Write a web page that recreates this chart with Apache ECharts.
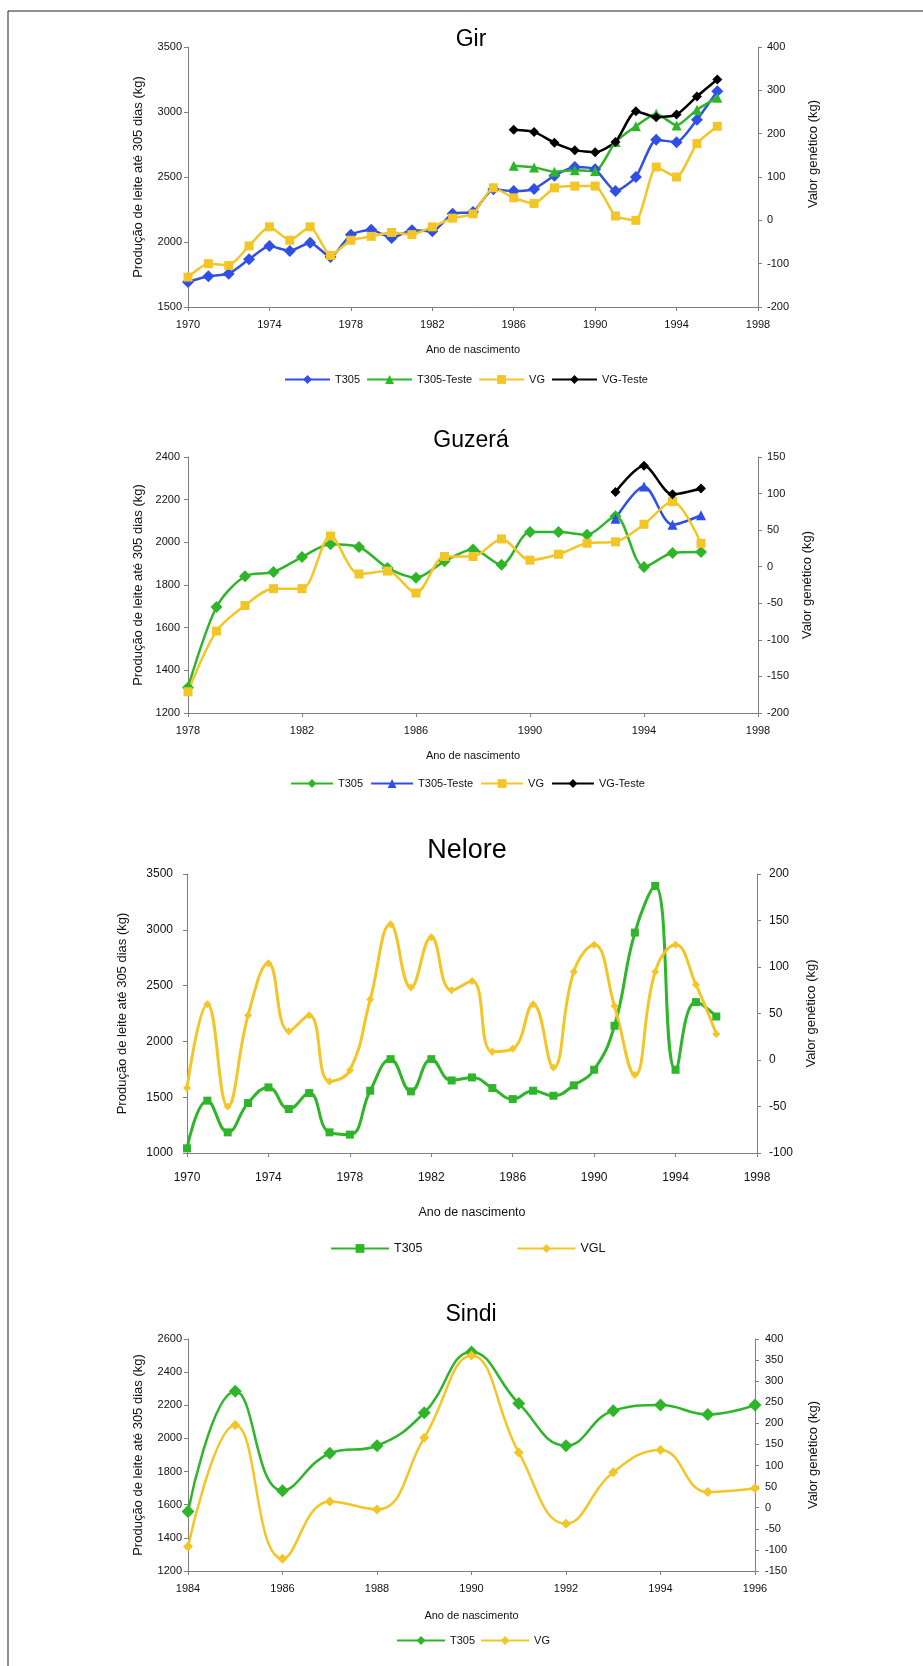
<!DOCTYPE html>
<html>
<head>
<meta charset="utf-8">
<script src="https://cdn.jsdelivr.net/npm/echarts@6/dist/echarts.min.js"></script>
<style>
  html, body { margin: 0; padding: 0; background: #fff; }
  #c { width: 923px; height: 1666px; }
</style>
</head>
<body>
<div id="c"></div>
<script>
// ---------- Gir ----------
const girYears = [1970,1971,1972,1973,1974,1975,1976,1977,1978,1979,1980,1981,1982,1983,1984,1985,1986,1987,1988,1989,1990,1991,1992,1993,1994,1995,1996];
const girT305 = [1692,1736,1756,1867,1969,1931,1995,1885,2056,2095,2031,2090,2082,2218,2231,2405,2392,2408,2510,2577,2559,2392,2500,2787,2767,2941,3159];
const girVG = [-131,-100,-104,-59,-15,-46,-15,-81,-46,-37,-28,-33,-15,5,15,75,52,39,75,79,79,10,0,123,100,177,217];
const girTesteYears = [1986,1987,1988,1989,1990,1991,1992,1993,1994,1995,1996];
const girT305Teste = [2587,2574,2541,2551,2546,2769,2890,2987,2897,3018,3110];
const girVGTeste = [209,204,179,162,157,181,252,238,244,286,325];

// ---------- Guzerá ----------
const guzYears = [1978,1979,1980,1981,1982,1983,1984,1985,1986,1987,1988,1989,1990,1991,1992,1993,1994,1995,1996];
const guzT305 = [1319,1697,1841,1861,1931,1991,1978,1880,1834,1911,1966,1895,2048,2048,2036,2122,1884,1950,1955];
const guzVG = [-171,-88,-53,-30,-30,42,-10,-6,-36,14,14,38,9,17,32,34,58,89,32];
const guzTesteYears = [1993,1994,1995,1996];
const guzT305Teste = [2111,2262,2083,2127];
const guzVGTeste = [102,138,99,107];

// ---------- Nelore ----------
const nelYears = [1970,1971,1972,1973,1974,1975,1976,1977,1978,1979,1980,1981,1982,1983,1984,1985,1986,1987,1988,1989,1990,1991,1992,1993,1994,1995,1996];
const nelT305 = [1042,1469,1185,1448,1588,1394,1537,1185,1165,1558,1841,1552,1841,1650,1677,1582,1483,1558,1513,1606,1746,2140,2975,3393,1746,2352,2223];
const nelVGL = [-30,60,-50,48,104,31,48,-23,-11,65,146,78,132,75,85,9,12,60,-8,95,124,58,-16,95,124,81,28];

// ---------- Sindi ----------
const sinYears = [1984,1985,1986,1987,1988,1989,1990,1991,1992,1993,1994,1995,1996];
const sinT305 = [1559,2285,1685,1910,1956,2155,2522,2211,1956,2167,2201,2145,2201];
const sinVG = [-92,196,-121,15,-4,166,361,131,-38,84,137,37,46];

// ---------- axis ticks: [min, max, step] ----------
const girXTicks = [1970, 1998, 4];
const guzXTicks = [1978, 1998, 4];
const nelXTicks = [1970, 1998, 4];
const sinXTicks = [1984, 1996, 2];
const girYLeft = [1500, 3500, 500], girYRight = [-200, 400, 100];
const guzYLeft = [1200, 2400, 200], guzYRight = [-200, 150, 50];
const nelYLeft = [1000, 3500, 500], nelYRight = [-100, 200, 50];
const sinYLeft = [1200, 2600, 200], sinYRight = [-150, 400, 50];

const yTitleLeft = 'Produção de leite até 305 dias (kg)';
const yTitleRight = 'Valor genético (kg)';
const xTitle = 'Ano de nascimento';

const FONT = "'Liberation Sans', Arial, sans-serif";
const C_BLUE = '#2f4fe6', C_GREEN = '#2fb52a', C_YELLOW = '#f3c526', C_BLACK = '#000000';
const AXIS_GRAY = '#7f7f7f';

// years are placed relative to the first tick so that ticks start at it
function pts(years, vals, base) {
  return years.map((y, i) => [y - base, vals[i]]);
}

function xAxisCfg(gridIndex, ticks, o) {
  const base = ticks[0];
  return {
    type: 'value', gridIndex, min: 0, max: ticks[1] - base, interval: ticks[2],
    name: xTitle, nameLocation: 'middle', nameGap: o.nameGap,
    nameTextStyle: { fontFamily: FONT, fontSize: o.nameSize, color: '#111' },
    axisLine: { show: true, onZero: false, lineStyle: { color: AXIS_GRAY, width: 1 } },
    axisTick: { show: true, inside: false, length: 4, lineStyle: { color: AXIS_GRAY } },
    axisLabel: { margin: o.margin, fontFamily: FONT, fontSize: o.fontSize, color: '#111',
                 formatter: v => String(v + base) },
    splitLine: { show: false }
  };
}

function yAxisCfg(gridIndex, ticks, pos, o) {
  return {
    type: 'value', gridIndex, position: pos, min: ticks[0], max: ticks[1], interval: ticks[2],
    name: o.name || '', nameLocation: 'middle', nameGap: o.nameGap || 40, nameRotate: 90,
    nameTextStyle: { fontFamily: FONT, fontSize: 13, color: '#111' },
    axisLine: { show: true, onZero: false, lineStyle: { color: AXIS_GRAY, width: 1 } },
    axisTick: { show: true, inside: false, length: 4, lineStyle: { color: AXIS_GRAY } },
    axisLabel: { margin: o.margin, fontFamily: FONT, fontSize: o.fontSize, color: '#111',
                 formatter: v => String(v) },
    splitLine: { show: false }
  };
}

function line(name, x, y, data, color, symbol, size, width, smooth) {
  return {
    type: 'line', name, xAxisIndex: x, yAxisIndex: y, data,
    symbol, symbolSize: size, showSymbol: true, smooth,
    lineStyle: { color, width }, itemStyle: { color },
    emphasis: { disabled: true }, animation: false
  };
}

const series = [
  // Gir
  line('Gir|T305', 0, 0, pts(girYears, girT305, girXTicks[0]), C_BLUE, 'diamond', 12, 2.5, 0.2),
  line('Gir|T305-Teste', 0, 0, pts(girTesteYears, girT305Teste, girXTicks[0]), C_GREEN, 'triangle', 10, 2.5, 0.2),
  line('Gir|VG', 0, 1, pts(girYears, girVG, girXTicks[0]), C_YELLOW, 'rect', 9, 2.5, 0.2),
  line('Gir|VG-Teste', 0, 1, pts(girTesteYears, girVGTeste, girXTicks[0]), C_BLACK, 'diamond', 10, 2.5, 0.2),
  // Guzerá
  line('Guz|T305', 1, 2, pts(guzYears, guzT305, guzXTicks[0]), C_GREEN, 'diamond', 12, 2.5, 0.3),
  line('Guz|T305-Teste', 1, 2, pts(guzTesteYears, guzT305Teste, guzXTicks[0]), C_BLUE, 'triangle', 10, 2.5, 0.3),
  line('Guz|VG', 1, 3, pts(guzYears, guzVG, guzXTicks[0]), C_YELLOW, 'rect', 9, 2.5, 0.3),
  line('Guz|VG-Teste', 1, 3, pts(guzTesteYears, guzVGTeste, guzXTicks[0]), C_BLACK, 'diamond', 10, 2.5, 0.3),
  // Nelore
  line('Nel|T305', 2, 4, pts(nelYears, nelT305, nelXTicks[0]), C_GREEN, 'rect', 8, 3, 0.45),
  line('Nel|VGL', 2, 5, pts(nelYears, nelVGL, nelXTicks[0]), C_YELLOW, 'diamond', 8, 3, 0.45),
  // Sindi
  line('Sin|T305', 3, 6, pts(sinYears, sinT305, sinXTicks[0]), C_GREEN, 'diamond', 13, 2.5, 0.45),
  line('Sin|VG', 3, 7, pts(sinYears, sinVG, sinXTicks[0]), C_YELLOW, 'diamond', 10, 2.5, 0.45)
];

function legendCfg(names, left, centerY, itemWidth, itemGap, fontSize) {
  return {
    data: names, left, top: centerY - 7, orient: 'horizontal',
    itemWidth, itemHeight: 11, itemGap, selectedMode: false,
    formatter: n => n.split('|')[1],
    textStyle: { fontFamily: FONT, fontSize, color: '#111' }
  };
}

function titleCfg(text, cx, cy, size) {
  return {
    text, left: cx, top: cy - size * 0.62, textAlign: 'center',
    textStyle: { fontFamily: FONT, fontSize: size, fontWeight: 'normal', color: '#000' }
  };
}

const option = {
  backgroundColor: '#ffffff',
  animation: false,
  title: [
    titleCfg('Gir', 466, 37, 23),
    titleCfg('Guzerá', 466, 438, 23),
    titleCfg('Nelore', 462, 849, 27),
    titleCfg('Sindi', 466, 1312, 23)
  ],
  grid: [
    { left: 188, top: 47, width: 570, height: 260 },
    { left: 188, top: 457, width: 570, height: 256 },
    { left: 187, top: 874, width: 570, height: 279 },
    { left: 188, top: 1339, width: 567, height: 232 }
  ],
  xAxis: [
    xAxisCfg(0, girXTicks, { margin: 12, fontSize: 11, nameGap: 37, nameSize: 11 }),
    xAxisCfg(1, guzXTicks, { margin: 12, fontSize: 11, nameGap: 37, nameSize: 11 }),
    xAxisCfg(2, nelXTicks, { margin: 19, fontSize: 12, nameGap: 53, nameSize: 12.5 }),
    xAxisCfg(3, sinXTicks, { margin: 12, fontSize: 11, nameGap: 39, nameSize: 11 })
  ],
  yAxis: [
    yAxisCfg(0, girYLeft, 'left', { margin: 6, fontSize: 11, name: yTitleLeft, nameGap: 43 }),
    yAxisCfg(0, girYRight, 'right', { margin: 9, fontSize: 11 }),
    yAxisCfg(1, guzYLeft, 'left', { margin: 8, fontSize: 11, name: yTitleLeft, nameGap: 43 }),
    yAxisCfg(1, guzYRight, 'right', { margin: 9, fontSize: 11, name: yTitleRight, nameGap: 43 }),
    yAxisCfg(2, nelYLeft, 'left', { margin: 14, fontSize: 12, name: yTitleLeft, nameGap: 58 }),
    yAxisCfg(2, nelYRight, 'right', { margin: 12, fontSize: 12, name: yTitleRight, nameGap: 48 }),
    yAxisCfg(3, sinYLeft, 'left', { margin: 6, fontSize: 11, name: yTitleLeft, nameGap: 43 }),
    yAxisCfg(3, sinYRight, 'right', { margin: 10, fontSize: 11, name: yTitleRight, nameGap: 52 })
  ],
  legend: [
    legendCfg(['Gir|T305', 'Gir|T305-Teste', 'Gir|VG', 'Gir|VG-Teste'], 279, 376, 45, 6, 11),
    legendCfg(['Guz|T305', 'Guz|T305-Teste', 'Guz|VG', 'Guz|VG-Teste'], 285, 780, 42, 7, 11),
    legendCfg(['Nel|T305', 'Nel|VGL'], 325, 1244, 58, 94, 12.5),
    legendCfg(['Sin|T305', 'Sin|VG'], 391, 1637, 48, 5, 11)
  ],
  graphic: [
    // page frame (top and left edges)
    { type: 'line', shape: { x1: 8, y1: 11, x2: 923, y2: 11 }, style: { stroke: '#222', lineWidth: 1 } },
    { type: 'line', shape: { x1: 8, y1: 11, x2: 8, y2: 1666 }, style: { stroke: '#222', lineWidth: 1 } },
    // right-axis title of the Gir panel, set a little above the axis middle
    { type: 'text', x: 813, y: 154, rotation: Math.PI / 2,
      style: { text: yTitleRight, fontFamily: FONT, fontSize: 13, fill: '#111',
               align: 'center', verticalAlign: 'middle' } }
  ],
  series
};

const chart = echarts.init(document.getElementById('c'), null, { renderer: 'canvas' });
chart.setOption(option);
</script>
</body>
</html>
